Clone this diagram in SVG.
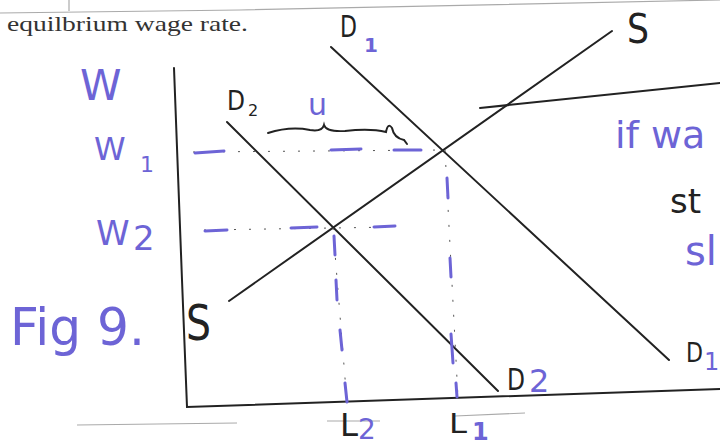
<svg xmlns="http://www.w3.org/2000/svg" width="720" height="446" viewBox="0 0 720 446">
<style>
.ink{stroke:#222;stroke-width:2;fill:none;stroke-linecap:round}
.faint{stroke:#aaa;stroke-width:1.2;fill:none}
.blue{stroke:#6d64d6;stroke-width:3;fill:none;stroke-linecap:round}
.dots{stroke:#555;stroke-width:1;fill:none;stroke-dasharray:2 13}
.hb{font-family:"DejaVu Sans","Liberation Sans",sans-serif;fill:#6d64d6}
.hk{font-family:"DejaVu Sans","Liberation Sans",sans-serif;fill:#222}
.pr{font-family:"Liberation Serif","Times New Roman",serif;fill:#333}
</style>
<rect width="720" height="446" fill="#fff"/>
<g id="scan-marks">
<path class="faint" d="M0,13 L240,10 L720,0"/>
<path class="faint" d="M69,0 L69,11"/>
<path class="faint" d="M77,425 L237,423"/>
<path class="faint" d="M327,421 L380,421"/>
<path class="faint" d="M455,416 L525,413"/>
</g>
<text class="pr" x="7" y="31" font-size="21" textLength="241" lengthAdjust="spacingAndGlyphs">equilbrium wage rate.</text>
<g id="axes">
<path class="ink" d="M174,68 L182,280 L187,407 L720,389"/>
<path class="ink" d="M480,108 L720,83"/>
</g>
<g id="curves">
<path id="S-curve" class="ink" d="M229,301 L612,31"/>
<path id="D1-curve" class="ink" d="M331,47 L669,360"/>
<path id="D2-curve" class="ink" d="M227,122 L498,391"/>
</g>
<g id="guides">
<path class="dots" d="M193,152 L444,150"/>
<path class="dots" d="M204,230 L396,227"/>
<path class="dots" d="M333,228 L347,403"/>
<path class="dots" d="M445,150 L458,398"/>
<path class="blue" d="M195,153 L224,151 M331,150 L361,149 M394,150 L421,150"/>
<path class="blue" d="M205,231 L227,230 M291,228 L317,227 M374,227 L395,226"/>
<path class="blue" d="M334,236 L335,255 M336,280 L337,300 M340,330 L342,350 M345,383 L347,402"/>
<path class="blue" d="M447,178 L448,198 M450,258 L451,277 M451,334 L453,363 M456,383 L457,397"/>
<path class="ink" stroke-width="1.5" d="M268,133 Q290,126 310,130 Q322,132 324,125 Q326,132 345,131 Q370,128 386,132 Q388,122 392,128 Q394,138 404,140 L407,144"/>
</g>
<g id="labels">
<text class="hb" x="80" y="100" font-size="42">W</text>
<text class="hb" x="94" y="160" font-size="32">W</text>
<text class="hb" x="140" y="172" font-size="22">1</text>
<text class="hb" x="96" y="245" font-size="34">W</text>
<text class="hb" x="133" y="250" font-size="34">2</text>
<text class="hb" x="10" y="345" font-size="52" textLength="135" lengthAdjust="spacingAndGlyphs">Fig 9.</text>
<text class="hk" x="186" y="340" font-size="50" textLength="25" lengthAdjust="spacingAndGlyphs">S</text>
<text class="hk" x="627" y="43" font-size="40" textLength="22" lengthAdjust="spacingAndGlyphs">S</text>
<text class="hk" x="340" y="37" font-size="30" textLength="17" lengthAdjust="spacingAndGlyphs">D</text>
<text class="hb" x="364" y="52" font-size="20" font-weight="bold">1</text>
<text class="hk" x="227" y="110" font-size="26" textLength="18" lengthAdjust="spacingAndGlyphs">D</text>
<text class="hk" x="248" y="116" font-size="16">2</text>
<text class="hb" x="308" y="115" font-size="30">u</text>
<text class="hk" x="507" y="390" font-size="30" textLength="18" lengthAdjust="spacingAndGlyphs">D</text>
<text class="hb" x="529" y="392" font-size="32">2</text>
<text class="hk" x="686" y="362" font-size="26" textLength="17" lengthAdjust="spacingAndGlyphs">D</text>
<text class="hb" x="704" y="370" font-size="24">1</text>
<text class="hk" x="340" y="436" font-size="32" textLength="18" lengthAdjust="spacingAndGlyphs">L</text>
<text class="hb" x="358" y="439" font-size="28">2</text>
<text class="hk" x="449" y="433" font-size="26" textLength="18" lengthAdjust="spacingAndGlyphs">L</text>
<text class="hb" x="472" y="440" font-size="24" font-weight="bold">1</text>
<text class="hb" x="615" y="148" font-size="38">if wa</text>
<text class="hk" x="670" y="213" font-size="34">st</text>
<text class="hb" x="685" y="265" font-size="40">sl</text>
</g>
</svg>
